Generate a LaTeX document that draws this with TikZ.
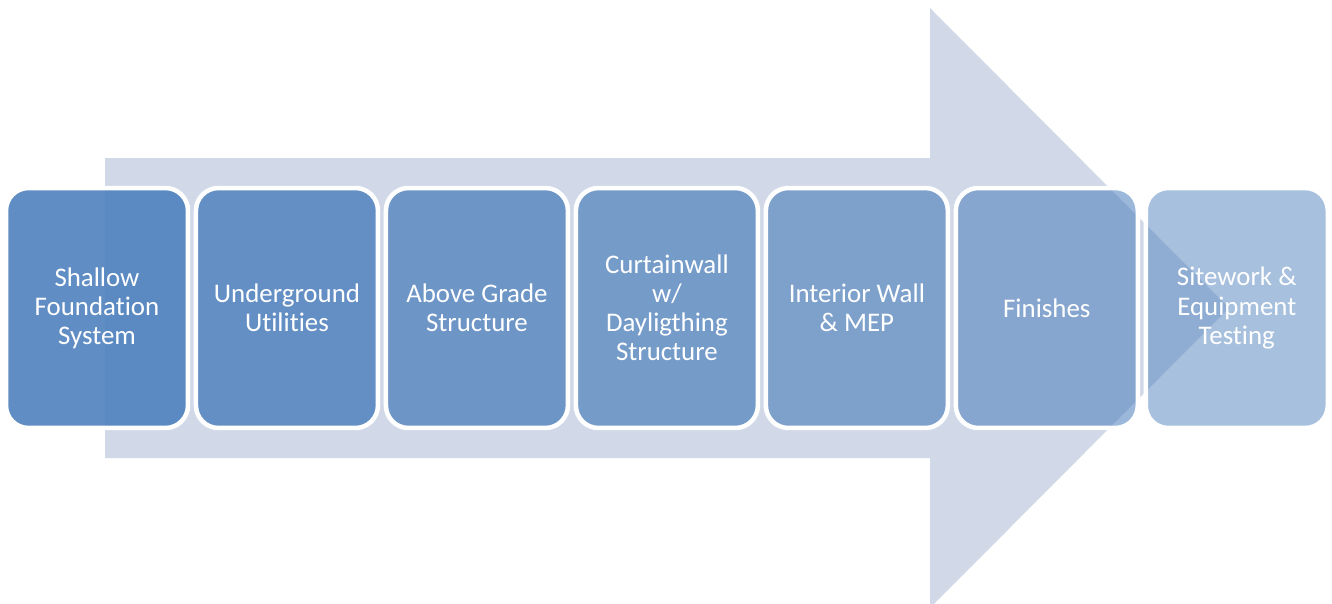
\documentclass[tikz,border=0pt]{standalone}
\usepackage{fontspec}
\setmainfont{Carlito}[Ligatures=NoCommon]
\usetikzlibrary{positioning}
\definecolor{Accent}{HTML}{4F81BD}
\definecolor{Track}{HTML}{D1D9E8}
\tikzset{
  phase/.style={
    rounded corners=0.45cm, draw=white, line width=0.09cm, fill=Accent,
    minimum width=3.64cm, minimum height=4.8cm, outer sep=0pt,
    text=white, text opacity=1, align=center,
    font=\fontsize{15.3}{16.6}\selectfont
  }
}

\begin{document}
\begin{tikzpicture}[x=0.02cm,y=0.02cm,node distance=0.16cm]
    \path[use as bounding box,clip] (0,0) rectangle (1332,603);
    % wide arrow running behind the steps
    \fill[Track] (105,145) -- (105,445) -- (930,445) -- (930,595)
      -- (1229,295) -- (930,-5) -- (930,145) -- cycle;
    \node[phase,fill opacity=0.9] (shallow) at (97,295) {Shallow\\Foundation\\System};
    \node[phase,fill opacity=0.833,right=of shallow] (utilities) {Underground\\Utilities};
    \node[phase,fill opacity=0.767,right=of utilities] (grade) {Above Grade\\Structure};
    \node[phase,fill opacity=0.7,right=of grade] (curtain) {Curtainwall\\w/\\Dayligthing\\Structure};
    \node[phase,fill opacity=0.633,right=of curtain] (interior) {Interior Wall\\\& MEP};
    \node[phase,fill opacity=0.567,right=of interior] (finishes) {Finishes};
    \node[phase,fill opacity=0.5,right=of finishes] (sitework) {Sitework \&\\Equipment\\Testing};
  \end{tikzpicture}
\end{document}
